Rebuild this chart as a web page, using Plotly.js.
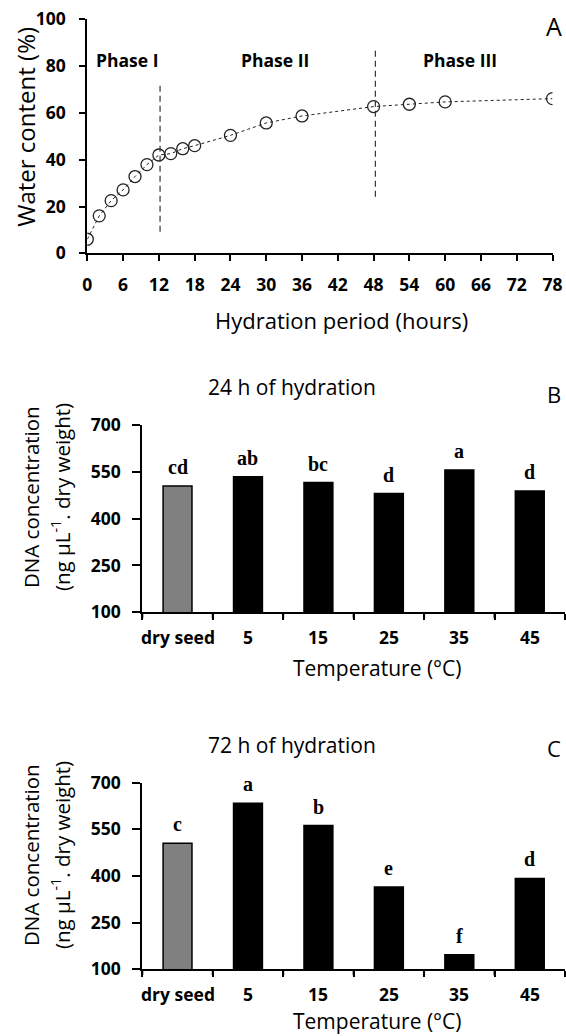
<!DOCTYPE html>
<html>
<head>
<meta charset="utf-8">
<script src="https://cdn.plot.ly/plotly-3.0.1.min.js"></script>
<style>html,body{margin:0;padding:0;background:#fff;}#chart{width:566px;height:1036px;}</style>
</head>
<body>
<div id="chart"></div>
<script>
// ---- Panel A data ----
const hours = [0, 2, 4, 6, 8, 10, 12, 14, 16, 18, 24, 30, 36, 48, 54, 60, 78];
const waterContent = [6.0, 16.0, 22.5, 27.1, 32.8, 37.9, 42.0, 42.6, 44.7, 46.0, 50.4, 55.7, 58.7, 62.7, 63.7, 64.7, 66.1];
const hourTicks = [0, 6, 12, 18, 24, 30, 36, 42, 48, 54, 60, 66, 72, 78];
const waterTicks = [0, 20, 40, 60, 80, 100];
const phaseBoundaryX = [12.2, 48.3];
const phaseLineLow = [9.2, 24.2];
const phaseLineHigh = [73.3, 88.3];
const phaseNames = ['Phase I', 'Phase II', 'Phase III'];
const phaseLabelX = [6.6, 31.45, 62.5];
const phaseLabelY = [82.6, 82.6, 82.6];

// ---- Panels B and C data ----
const temperatures = ['dry seed', '5', '15', '25', '35', '45'];
const dna24h = [504, 534, 515, 480, 555, 488];
const dna72h = [505, 634, 562, 365, 147, 392];
const letters24h = ['cd', 'ab', 'bc', 'd', 'a', 'd'];
const letters72h = ['c', 'a', 'b', 'e', 'f', 'd'];
const dnaTicks = [100, 250, 400, 550, 700];

const SANS = 'Open Sans, sans-serif';
const SERIF = 'Liberation Serif, Times New Roman, serif';
const catIndex = temperatures.map((t, i) => i);
const catBoundaries = [-0.5].concat(catIndex.map(i => i + 0.5));
const barColors = temperatures.map((t, i) => i === 0 ? '#808080' : '#000000');
const bold = a => a.map(v => '<b>' + v + '</b>');

const traces = [
  {
    x: hours, y: waterContent, type: 'scatter', mode: 'lines+markers',
    line: {color: '#222', width: 1, dash: 'dot'},
    marker: {symbol: 'circle-open', size: 12, color: '#222', line: {width: 1.3}},
    xaxis: 'x', yaxis: 'y', showlegend: false, hoverinfo: 'skip'
  }
];
phaseBoundaryX.forEach((bx, i) => {
  traces.push({
    x: [bx, bx], y: [phaseLineLow[i], phaseLineHigh[i]], type: 'scatter', mode: 'lines',
    line: {color: '#333', width: 1.2, dash: '6px,4px'},
    xaxis: 'x', yaxis: 'y', showlegend: false, hoverinfo: 'skip'
  });
});
[[dna24h, 'x2', 'y2'], [dna72h, 'x3', 'y3']].forEach(([vals, xa, ya]) => {
  traces.push({
    x: catIndex, y: vals, type: 'bar', width: 0.41,
    marker: {color: barColors, line: {color: '#000', width: 1.5}},
    xaxis: xa, yaxis: ya, showlegend: false, hoverinfo: 'skip'
  });
});

const W = 566, H = 1036;
const px = v => v / W;
const py = v => 1 - v / H;

const axisCommon = {
  showgrid: false, zeroline: false, showline: true, linecolor: '#000', linewidth: 2,
  ticks: 'outside', tickcolor: '#000', tickwidth: 2, fixedrange: true, tickangle: 0
};
const tickFont = {family: SANS, size: 17.5, color: '#000'};

const annotations = [];
const shapes = [];
function paperText(x, y, text, size, extra) {
  annotations.push(Object.assign({
    xref: 'paper', yref: 'paper', x: px(x), y: py(y), text: text, showarrow: false,
    xanchor: 'center', yanchor: 'middle', font: {family: SANS, size: size, color: '#000'}
  }, extra || {}));
}
// Panel A annotations
phaseNames.forEach((n, i) => annotations.push({
  xref: 'x', yref: 'y', x: phaseLabelX[i], y: phaseLabelY[i], text: '<b>' + n + '</b>',
  xanchor: 'center', yanchor: 'middle',
  showarrow: false, font: {family: SANS, size: 17.5, color: '#000'}
}));
paperText(554, 26, 'A', 25);
paperText(26, 126.7, 'Water content (%)', 24, {textangle: -90});
paperText(341.5, 320, 'Hydration period (hours)', 22);

// Panels B and C
function barPanel(xref, yref, values, letters, title, tag, titleY, tagY, yTitleY, xTitleY, tickLabelY, axisY) {
  values.forEach((v, i) => annotations.push({
    xref: xref, yref: yref, x: catIndex[i], y: v, text: '<b>' + letters[i] + '</b>',
    showarrow: false, xanchor: 'center', yanchor: 'bottom', yshift: 6,
    font: {family: SERIF, size: 20, color: '#000'}
  }));
  // category tick labels
  temperatures.forEach((t, i) => annotations.push({
    xref: xref, yref: 'paper', x: catIndex[i], y: py(tickLabelY), text: '<b>' + t + '</b>',
    showarrow: false, xanchor: 'center', yanchor: 'middle', font: tickFont
  }));
  // tick marks at category boundaries
  catBoundaries.forEach(b => shapes.push({
    type: 'line', xref: xref, yref: 'paper', x0: b, x1: b, y0: py(axisY), y1: py(axisY + 6),
    line: {color: '#000', width: 2}
  }));
  paperText(291.7, titleY, title, 21);
  paperText(554, tagY, tag, 22);
  paperText(31, yTitleY, 'DNA concentration', 20.5, {textangle: -90});
  paperText(61, yTitleY, '(ng µL<sup>-1</sup>. dry weight)', 20.5, {textangle: -90});
  paperText(377.5, xTitleY, 'Temperature (°C)', 21);
}
barPanel('x2', 'y2', dna24h, letters24h, '24 h of hydration', 'B', 386.7, 394, 497, 668.3, 637, 612.3);
barPanel('x3', 'y3', dna72h, letters72h, '72 h of hydration', 'C', 745, 748, 855, 1021, 994, 969.3);

const barDomain = [px(142.3), px(565)];
const catAxis = (anchor) => Object.assign({}, axisCommon, {
  domain: barDomain, range: [-0.5, 5.5], anchor: anchor,
  tickmode: 'array', tickvals: catBoundaries, ticktext: catBoundaries.map(() => ' '),
  ticks: 'outside', ticklen: 6, tickfont: tickFont
});
const dnaAxis = (anchor, dom) => Object.assign({}, axisCommon, {
  domain: dom, range: [100, 700], anchor: anchor,
  tickmode: 'array', tickvals: dnaTicks, ticktext: bold(dnaTicks),
  ticklen: 8, tickfont: tickFont, ticklabelstandoff: 8
});

const layout = {
  width: W, height: H,
  margin: {l: 0, r: 0, t: 0, b: 0},
  paper_bgcolor: '#fff', plot_bgcolor: '#fff',
  showlegend: false,
  font: {family: SANS, color: '#000'},
  xaxis: Object.assign({}, axisCommon, {
    domain: [px(87.3), px(552.5)], range: [0, 78], anchor: 'y',
    tickmode: 'array', tickvals: hourTicks, ticktext: bold(hourTicks),
    ticklen: 6, tickfont: tickFont, ticklabelstandoff: 9
  }),
  yaxis: Object.assign({}, axisCommon, {
    domain: [py(253.3), py(19.3)], range: [0, 100], anchor: 'x',
    tickmode: 'array', tickvals: waterTicks, ticktext: bold(waterTicks),
    ticklen: 6, tickfont: tickFont, ticklabelstandoff: 10
  }),
  xaxis2: catAxis('y2'),
  yaxis2: dnaAxis('x2', [py(612.3), py(424.8)]),
  xaxis3: catAxis('y3'),
  yaxis3: dnaAxis('x3', [py(969.3), py(782.7)]),
  shapes: shapes,
  annotations: annotations
};

Plotly.newPlot('chart', traces, layout, {staticPlot: true, displayModeBar: false});
</script>
</body>
</html>
